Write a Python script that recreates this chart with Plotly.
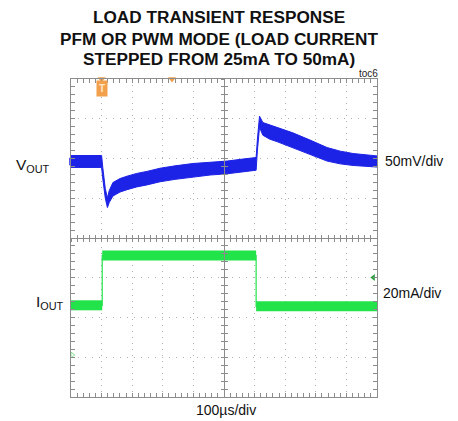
import plotly.graph_objects as go

# ---------------- data ----------------
# Output voltage deviation, AC coupled (time in µs, centre of trace in mV)
vout_t = [0, 100, 104, 112, 119, 125, 137, 160, 183, 215, 248, 291, 340, 399, 455, 510, 560, 605,
          609, 616, 627, 650, 673, 700, 725, 781, 837, 880, 922, 1000]
vout_mv = [0, 0, -15, -40, -52, -44, -35, -30, -27, -23.5, -21, -17, -14, -11, -9, -7.5, -5, -3,
           20, 50, 41, 37, 34, 30, 27, 18, 9, 5, 2.5, 0]
# peak-to-peak switching noise width of the trace (mV)
vout_pp_mv = [15, 15, 14, 12, 12, 15, 17, 17, 17, 17, 17, 17, 17, 17, 16, 16, 16, 16,
              14, 14, 16, 18, 18, 18, 18, 18, 17, 16, 15, 14]

# Load current (time in µs, current in mA)
iout_t = [0, 102, 102, 605, 605, 1000]
iout_ma = [25, 25, 50, 50, 24.5, 24.5]

trigger_t = 100          # trigger position, µs
trigger_level_ma = 39    # trigger level on load current, mA
vout_ref_mv = 0          # channel 1 reference marker
iout_ref_ma = 0          # channel 2 ground marker

# scope settings
t_div = 100      # µs/div
v_div = 50       # mV/div
i_div = 20       # mA/div
n_xdiv = 10
n_ydiv = 8
v_zero_div = 1.925    # divisions above screen centre where 0 mV sits
i_zero_div = -2.943   # divisions from screen centre where 0 mA sits

title_lines = ["LOAD TRANSIENT RESPONSE", "PFM OR PWM MODE (LOAD CURRENT", "STEPPED FROM 25mA TO 50mA)"]

BLUE = "#1c22e6"
GREEN = "#22e34a"
ORANGE = "#f2a04c"
GRID = "#b0b0b0"
BORDER = "#8c8c8c"
FONT = "Liberation Sans, Arial, sans-serif"

# page body has an 8px margin; figure is sized so the screen area lands at x 71..377, y 79..397
BODY = 8
W, H = 458 - BODY, 421 - BODY
X0, X1, Y0, Y1 = 71, 377, 79, 397     # plot area in window pixels
ML, MR, MT, MB = X0 - BODY, 458 - X1, Y0 - BODY, 421 - Y1

t_max = t_div * n_xdiv
half = n_ydiv / 2
v_range = [-(half + v_zero_div) * v_div, (half - v_zero_div) * v_div]
i_range = [-(half + i_zero_div) * i_div, (half - i_zero_div) * i_div]

fig = go.Figure()

# ---- load current ----
band_t, band_i = [], []
for k in range(len(iout_t) - 1):
    if iout_t[k] != iout_t[k + 1]:
        band_t += [iout_t[k], iout_t[k + 1], None]
        band_i += [iout_ma[k], iout_ma[k + 1], None]

fig.add_trace(go.Scatter(x=iout_t, y=iout_ma, mode="lines", xaxis="x", yaxis="y3",
                         line=dict(color=GREEN, width=1.2), hoverinfo="skip", showlegend=False))
fig.add_trace(go.Scatter(x=band_t, y=band_i, mode="lines", xaxis="x", yaxis="y3",
                         line=dict(color=GREEN, width=10), hoverinfo="skip", showlegend=False))

# ---- output voltage as a noise band ----
v_lo = [m - p / 2 for m, p in zip(vout_mv, vout_pp_mv)]
v_hi = [m + p / 2 for m, p in zip(vout_mv, vout_pp_mv)]
fig.add_trace(go.Scatter(x=vout_t, y=v_lo, mode="lines", xaxis="x", yaxis="y2",
                         line=dict(color=BLUE, width=1), hoverinfo="skip", showlegend=False))
fig.add_trace(go.Scatter(x=vout_t, y=v_hi, mode="lines", xaxis="x", yaxis="y2", fill="tonexty",
                         fillcolor=BLUE, line=dict(color=BLUE, width=1), hoverinfo="skip", showlegend=False))

# channel markers
fig.add_trace(go.Scatter(x=[0], y=[vout_ref_mv], mode="markers", xaxis="x", yaxis="y2", cliponaxis=False,
                         marker=dict(symbol="triangle-right", size=7, color=BLUE), showlegend=False, hoverinfo="skip"))
fig.add_trace(go.Scatter(x=[4], y=[iout_ref_ma], mode="markers", xaxis="x", yaxis="y3", cliponaxis=False,
                         marker=dict(symbol="triangle-right-open", size=5, color="#7fe08f"), showlegend=False, hoverinfo="skip"))
fig.add_trace(go.Scatter(x=[t_max - 12], y=[trigger_level_ma], mode="markers", xaxis="x", yaxis="y3", cliponaxis=False,
                         marker=dict(symbol="triangle-left", size=6, color="#2aa040"), showlegend=False, hoverinfo="skip"))
# trigger markers on top edge
fig.add_trace(go.Scatter(x=[trigger_t, 330], y=[half, half], mode="markers", xaxis="x", yaxis="y", cliponaxis=False,
                         marker=dict(symbol="triangle-down", size=7, color=ORANGE), showlegend=False, hoverinfo="skip"))

axis_common = dict(showline=True, linecolor=BORDER, linewidth=1, showticklabels=False,
                   ticks="inside", ticklen=4, tickcolor=BORDER, zeroline=False)

def centre_axis(side, is_x):
    d = dict(anchor="free", position=0.5, showticklabels=False, showgrid=False, zeroline=False,
             ticks=side, ticklen=3, tickcolor=BORDER, showline=(side == "outside"), linecolor=BORDER)
    if is_x:
        d.update(range=[0, t_max], overlaying="x", dtick=t_div,
                 minor=dict(dtick=t_div / 5, ticks=side, ticklen=3, tickcolor=BORDER))
    else:
        d.update(range=[-half, half], overlaying="y", dtick=1,
                 minor=dict(dtick=0.2, ticks=side, ticklen=3, tickcolor=BORDER))
    return d

fig.update_layout(
    width=W, height=H,
    margin=dict(l=ML, r=MR, t=MT, b=MB),
    paper_bgcolor="white", plot_bgcolor="white",
    xaxis=dict(range=[0, t_max], dtick=t_div, mirror="ticks", showgrid=True, gridcolor=GRID,
               griddash="1px,5px", gridwidth=1,
               minor=dict(dtick=t_div / 5, ticks="inside", ticklen=4, tickcolor=BORDER, showgrid=False),
               **axis_common),
    yaxis=dict(range=[-half, half], dtick=1, mirror="ticks", showgrid=True, gridcolor=GRID,
               griddash="1px,6px", gridwidth=1,
               minor=dict(dtick=0.2, ticks="inside", ticklen=4, tickcolor=BORDER, showgrid=False),
               **axis_common),
    yaxis2=dict(range=v_range, overlaying="y", visible=False),
    yaxis3=dict(range=i_range, overlaying="y", visible=False),
    xaxis2=centre_axis("outside", True),
    xaxis3=centre_axis("inside", True),
    yaxis4=centre_axis("outside", False),
    yaxis5=centre_axis("inside", False),
    font=dict(family=FONT, color="#111"),
)

for xa, ya in [("x2", "y"), ("x3", "y"), ("x", "y4"), ("x", "y5")]:
    fig.add_trace(go.Scatter(x=[None], y=[None], xaxis=xa, yaxis=ya, showlegend=False, hoverinfo="skip"))

def px(x):
    return (x - X0) / (X1 - X0)
def py(y):
    return (Y1 - y) / (Y1 - Y0)

ann = []
for line, yc in zip(title_lines, [17.5, 38.5, 59.5]):
    ann.append(dict(text="<b>" + line + "</b>", x=px(219), y=py(yc), xref="paper", yref="paper",
                    xanchor="center", yanchor="middle", showarrow=False,
                    font=dict(size=17.2, family=FONT, color="#111")))
ann.append(dict(text="toc6", x=px(357), y=py(73), xref="paper", yref="paper", xanchor="left", yanchor="middle",
                showarrow=False, font=dict(size=10, family=FONT, color="#222")))
ann.append(dict(text="V<sub>OUT</sub>", x=px(14), y=py(165), xref="paper", yref="paper", xanchor="left",
                yanchor="middle", showarrow=False, font=dict(size=15.5, family=FONT, color="#111")))
ann.append(dict(text="I<sub>OUT</sub>", x=px(66), y=py(302), xref="paper", yref="paper", xanchor="right",
                yanchor="middle", showarrow=False, font=dict(size=15.5, family=FONT, color="#111")))
ann.append(dict(text="50mV/div", x=px(383), y=py(161), xref="paper", yref="paper", xanchor="left",
                yanchor="middle", showarrow=False, font=dict(size=14, family=FONT, color="#111")))
ann.append(dict(text="20mA/div", x=px(381), y=py(293), xref="paper", yref="paper", xanchor="left",
                yanchor="middle", showarrow=False, font=dict(size=14, family=FONT, color="#111")))
ann.append(dict(text="100µs/div", x=px(225.5), y=py(410), xref="paper", yref="paper", xanchor="center",
                yanchor="middle", showarrow=False, font=dict(size=14, family=FONT, color="#111")))
ann.append(dict(text="<b>T</b>", x=trigger_t, y=py(88), xref="x", yref="paper", xanchor="center",
                yanchor="middle", showarrow=False, bgcolor=ORANGE, borderpad=2,
                font=dict(size=10, family=FONT, color="#fde6c8")))
fig.update_layout(annotations=ann)

fig.write_html("out.html")
